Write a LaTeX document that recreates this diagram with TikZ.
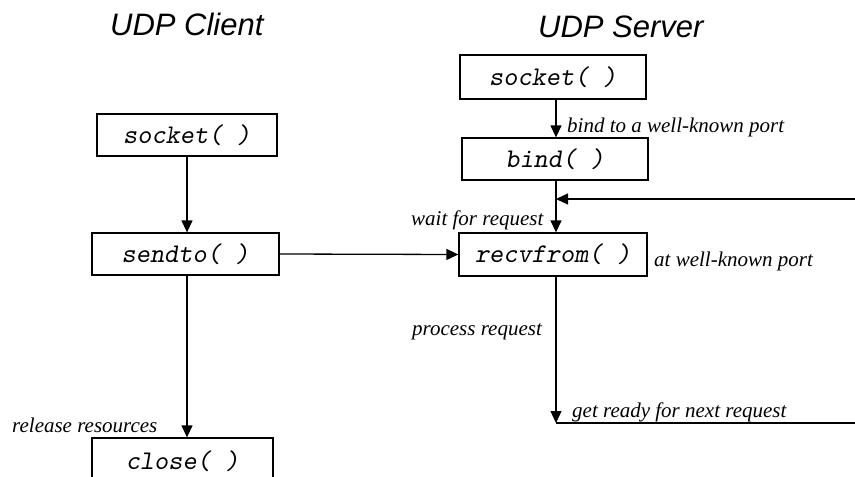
\documentclass[tikz,border=0pt]{standalone}
\usepackage{fontspec}
\setmainfont{Liberation Serif}
\newfontfamily\titlefont{Liberation Sans}
\usetikzlibrary{arrows.meta}
\begin{document}
\begin{tikzpicture}[x=1pt,y=-1pt,
  box/.style={draw, line width=1.3pt, inner sep=0pt, font=\ttfamily\slshape\fontsize{27}{30}\selectfont},
  lbl/.style={anchor=base west, inner sep=0pt, font=\itshape\fontsize{21}{24}\selectfont},
  ttl/.style={anchor=base west, inner sep=0pt, font=\titlefont\itshape\fontsize{31}{36}\selectfont},
  arr/.style={line width=1.3pt, -{Triangle[length=12pt,width=11pt]}},
  ln/.style={line width=1.3pt}]
\useasboundingbox (0,0) rectangle (855,477);
\clip (0,0) rectangle (855,477);
% titles
\node[ttl] (tclient) at (110,35) {UDP Client};
\node[ttl] (tserver) at (538,37) {UDP Server};
% client boxes
\node[box, minimum width=180pt, minimum height=42pt] (csock) at (187,135) {socket( )};
\node[box, minimum width=187pt, minimum height=42pt] (csend) at (185.5,254) {sendto( )};
\node[box, minimum width=181pt, minimum height=46pt] (cclose) at (182.5,461) {close( )};
% server boxes
\node[box, minimum width=186pt, minimum height=44pt] (ssock) at (553,77) {socket( )};
\node[box, minimum width=186pt, minimum height=42pt] (sbind) at (555,159) {bind( )};
\node[box, minimum width=188pt, minimum height=43pt] (srecv) at (553,254.5) {recvfrom( )};
% coordinates
\coordinate (fbR) at (856,199);
\coordinate (fbJ) at (556,199);
\coordinate (loopB) at (556,423);
\coordinate (loopR) at (856,423);
% client connectors
\draw[arr] (csock.south -| 187,0) -- (csend.north -| 187,0);
\draw[arr] (csend.south -| 187,0) -- (cclose.north -| 187,0);
\draw[arr] (csend.east) -- (srecv.west);
% server connectors
\draw[arr] (ssock.south -| 556,0) -- (sbind.north -| 556,0);
\draw[arr] (sbind.south -| 556,0) -- (srecv.north -| 556,0);
\draw[arr] (fbR) -- (fbJ);
\draw[arr] (srecv.south -| 556,0) -- (loopB);
\draw[ln] (loopB) -- (loopR);
% labels
\node[lbl] (lbind) at (567,132) {bind to a well-known port};
\node[lbl] (lwait) at (411,225) {wait for request};
\node[lbl] (lport) at (654,266) {at well-known port};
\node[lbl] (lproc) at (412,335) {process request};
\node[lbl] (lnext) at (572,417) {get ready for next request};
\node[lbl] (lrel) at (12,432) {release resources};
\end{tikzpicture}
\end{document}
